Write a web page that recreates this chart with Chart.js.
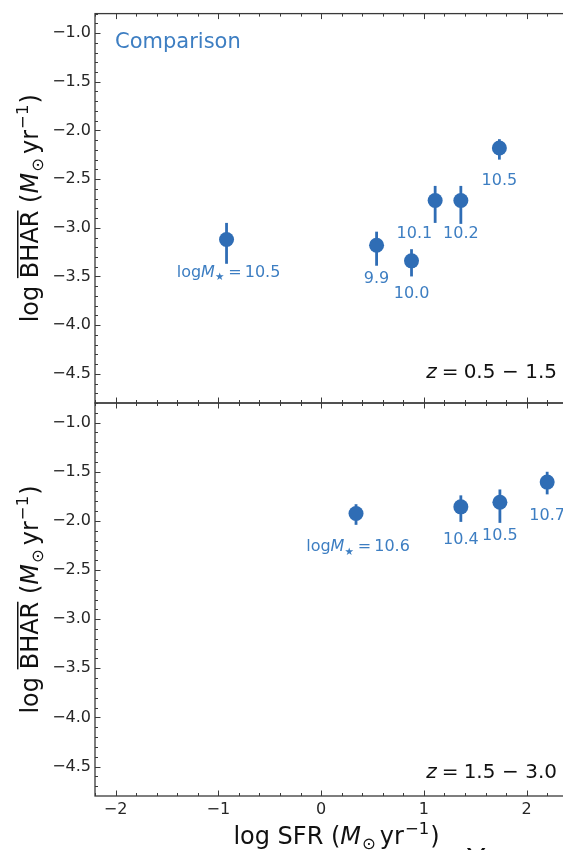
<!DOCTYPE html>
<html><head><meta charset="utf-8">
<script src="https://cdn.jsdelivr.net/npm/chart.js@4.4.0/dist/chart.umd.min.js"></script>
<style>
html,body{margin:0;padding:0;background:#fff;overflow:hidden;}
#wrap{position:relative;width:563px;height:850px;overflow:hidden;background:#fff;}
canvas{position:absolute;left:0;top:0;}
</style></head><body>
<div id="wrap"><canvas id="c1" width="620" height="850"></canvas><canvas id="c2" width="620" height="850"></canvas></div>
<script>
// ---- data ----
const xTicks = [-2, -1, 0, 1, 2];
const yTicks = [-4.5, -4.0, -3.5, -3.0, -2.5, -2.0, -1.5, -1.0];
// panel z = 0.5 - 1.5
const sfr1    = [-0.92, 0.54, 0.88, 1.11, 1.36, 1.735];
const bhar1   = [-3.12, -3.18, -3.34, -2.72, -2.72, -2.18];
const bharHi1 = [-2.95, -3.04, -3.22, -2.57, -2.57, -2.09];
const bharLo1 = [-3.37, -3.39, -3.50, -2.95, -2.96, -2.30];
const mass1   = ['10.5', '9.9', '10.0', '10.1', '10.2', '10.5'];
// panel z = 1.5 - 3.0
const sfr2    = [0.34, 1.36, 1.74, 2.20];
const bhar2   = [-1.925, -1.857, -1.81, -1.605];
const bharHi2 = [-1.83, -1.74, -1.68, -1.50];
const bharLo2 = [-2.04, -2.01, -2.02, -1.73];
const mass2   = ['10.6', '10.4', '10.5', '10.7'];

// ---- styles ----
const FONT = '"DejaVu Sans", sans-serif';
const PT_COLOR = '#2f6db5';
const LBL_COLOR = '#3d7ec2';
const INK = '#262626';
const X_MIN = -2.2, X_MAX = 2.5, Y_MIN = -4.8, Y_MAX = -0.8;

function fmt(v, d) { return (v < 0 ? '\u2212' : '') + Math.abs(v).toFixed(d); }

function drawRuns(ctx, runs, x, y, align, color) {
  let w = 0;
  runs.forEach(r => {
    r.size = r.size || 24;
    ctx.font = (r.italic ? 'italic ' : '') + r.size + 'px ' + FONT;
    r.tw = ctx.measureText(r.t).width;
    r.w = r.tw + (r.gap || 0) + (r.pre || 0);
    w += r.w;
  });
  let cx = align === 'center' ? x - w / 2 : (align === 'right' ? x - w : x);
  ctx.fillStyle = color;
  ctx.textBaseline = 'alphabetic';
  ctx.textAlign = 'left';
  runs.forEach(r => {
    ctx.font = (r.italic ? 'italic ' : '') + r.size + 'px ' + FONT;
    ctx.fillText(r.t, cx + (r.pre || 0), y + (r.dy || 0));
    if (r.overline) ctx.fillRect(cx + (r.pre || 0), y - r.size * 0.729 - 3.5, r.tw, 1.5);
    cx += r.w;
  });
}

function unitRuns(prefix) {
  return [
    {t: prefix},
    {t: 'M', italic: true, gap: 1},
    {t: '\u2299', size: 16.5, dy: 5, gap: 4},
    {t: 'yr', gap: 1},
    {t: '\u22121', size: 16.5, dy: -10.5, gap: 1},
    {t: ')'}
  ];
}

const panelPlugin = {
  id: 'panel',
  beforeDatasetsDraw(chart, args, o) {
    const ctx = chart.ctx, xs = chart.scales.x, ys = chart.scales.y;
    ctx.save();
    ctx.strokeStyle = PT_COLOR;
    ctx.lineWidth = 2.8;
    o.xv.forEach((xv, i) => {
      const px = xs.getPixelForValue(xv);
      ctx.beginPath();
      ctx.moveTo(px, ys.getPixelForValue(o.hi[i]));
      ctx.lineTo(px, ys.getPixelForValue(o.lo[i]));
      ctx.stroke();
    });
    ctx.restore();
  },
  afterDraw(chart, args, o) {
    const ctx = chart.ctx, xs = chart.scales.x, ys = chart.scales.y, a = chart.chartArea;
    ctx.save();
    // frame
    ctx.strokeStyle = '#3a3a3a';
    ctx.lineWidth = 1.3;
    ctx.strokeRect(a.left, a.top, a.right - a.left, a.bottom - a.top);
    // inward ticks
    ctx.lineWidth = 1;
    ctx.beginPath();
    for (let k = Math.ceil(X_MIN / 0.2); k * 0.2 <= X_MAX + 1e-9; k++) {
      const v = k * 0.2;
      const major = Math.abs(v - Math.round(v)) < 1e-6;
      const L = major ? 5.5 : 3;
      const px = Math.round(xs.getPixelForValue(v)) + 0.5;
      ctx.moveTo(px, a.top); ctx.lineTo(px, a.top + L);
      ctx.moveTo(px, a.bottom); ctx.lineTo(px, a.bottom - L);
    }
    for (let k = Math.ceil(Y_MIN / 0.1); k * 0.1 <= Y_MAX + 1e-9; k++) {
      const v = k * 0.1;
      const major = Math.abs(v * 2 - Math.round(v * 2)) < 1e-6;
      const L = major ? 5.5 : 3;
      const py = Math.round(ys.getPixelForValue(v)) + 0.5;
      ctx.moveTo(a.left, py); ctx.lineTo(a.left + L, py);
      ctx.moveTo(a.right, py); ctx.lineTo(a.right - L, py);
    }
    ctx.stroke();
    // point labels
    o.xv.forEach((xv, i) => {
      const px = xs.getPixelForValue(xv);
      const py = ys.getPixelForValue(o.yv[i]) + 37.5;
      const al = (o.align && o.align[i]) || 'center';
      const runs = i === 0
        ? [{t: 'log', size: 16}, {t: 'M', italic: true, size: 16}, {t: '\u2605', size: 10.5, dy: 3.5, gap: 4}, {t: '=', size: 16, gap: 3}, {t: o.labels[i], size: 16}]
        : [{t: o.labels[i], size: 16}];
      drawRuns(ctx, runs, al === 'right' ? px - 3 : px + (i === 0 ? 2 : 0), py, al, LBL_COLOR);
    });
    // redshift annotation
    drawRuns(ctx, [
      {t: 'z', italic: true, size: 20, gap: 5},
      {t: '=', size: 20, gap: 5},
      {t: o.zlo, size: 20, gap: 6.5},
      {t: '\u2212', size: 20, gap: 6.5},
      {t: o.zhi, size: 20}
    ], 557, a.bottom - o.zOff, 'right', '#111');
    if (o.comparison) drawRuns(ctx, [{t: 'Comparison', size: 21}], a.left + 20, a.top + 34, 'left', LBL_COLOR);
    // y title
    ctx.save();
    ctx.translate(38, (a.top + a.bottom) / 2);
    ctx.rotate(-Math.PI / 2);
    drawRuns(ctx, [{t: 'log '}, {t: 'BHAR', overline: true}, {t: ' ('}].concat(unitRuns('').slice(1)), 0, 0, 'center', '#111');
    ctx.restore();
    if (o.xtitle) {
      drawRuns(ctx, unitRuns('log SFR ('), (a.left + a.right) / 2, 844, 'center', '#111');
      ctx.font = '30px ' + FONT;
      ctx.fillStyle = '#111';
      ctx.fillText('Y', 467, 870);
    }
    ctx.restore();
  }
};

function makeChart(id, xv, yv, hi, lo, labels, cfg) {
  const showX = !!cfg.xtitle;
  return new Chart(document.getElementById(id), {
    type: 'scatter',
    data: {
      datasets: [{
        data: xv.map((x, i) => ({x: x, y: yv[i]})),
        backgroundColor: PT_COLOR,
        borderWidth: 0,
        pointRadius: 7.5,
        pointHoverRadius: 7.5
      }]
    },
    options: {
      responsive: false,
      animation: false,
      devicePixelRatio: 1,
      layout: {padding: cfg.padding},
      plugins: {
        legend: {display: false},
        tooltip: {enabled: false},
        panel: Object.assign({xv: xv, yv: yv, hi: hi, lo: lo, labels: labels}, cfg)
      },
      scales: {
        x: {
          type: 'linear', min: X_MIN, max: X_MAX, display: showX,
          afterBuildTicks: s => { s.ticks = xTicks.map(v => ({value: v})); },
          afterFit: s => { s.height = showX ? 54 : 0; },
          grid: {display: false, drawTicks: false},
          border: {display: false},
          ticks: {color: INK, font: {family: FONT, size: 16}, padding: 4, callback: v => fmt(v, 0), maxRotation: 0}
        },
        y: {
          type: 'linear', min: Y_MIN, max: Y_MAX,
          afterBuildTicks: s => { s.ticks = yTicks.map(v => ({value: v})); },
          afterFit: s => { s.width = 95; },
          grid: {display: false, drawTicks: false},
          border: {display: false},
          ticks: {color: INK, font: {family: FONT, size: 16}, padding: 4, callback: v => fmt(v, 1)}
        }
      }
    },
    plugins: [panelPlugin]
  });
}

makeChart('c1', sfr1, bhar1, bharHi1, bharLo1, mass1, {
  padding: {left: 0, top: 11, right: 42, bottom: 447},
  zlo: '0.5', zhi: '1.5', zOff: 25, comparison: true, align: {3: 'right'}
});
makeChart('c2', sfr2, bhar2, bharHi2, bharLo2, mass2, {
  padding: {left: 0, top: 403, right: 42, bottom: 0},
  zlo: '1.5', zhi: '3.0', zOff: 18, xtitle: true
});
</script>
</body></html>
